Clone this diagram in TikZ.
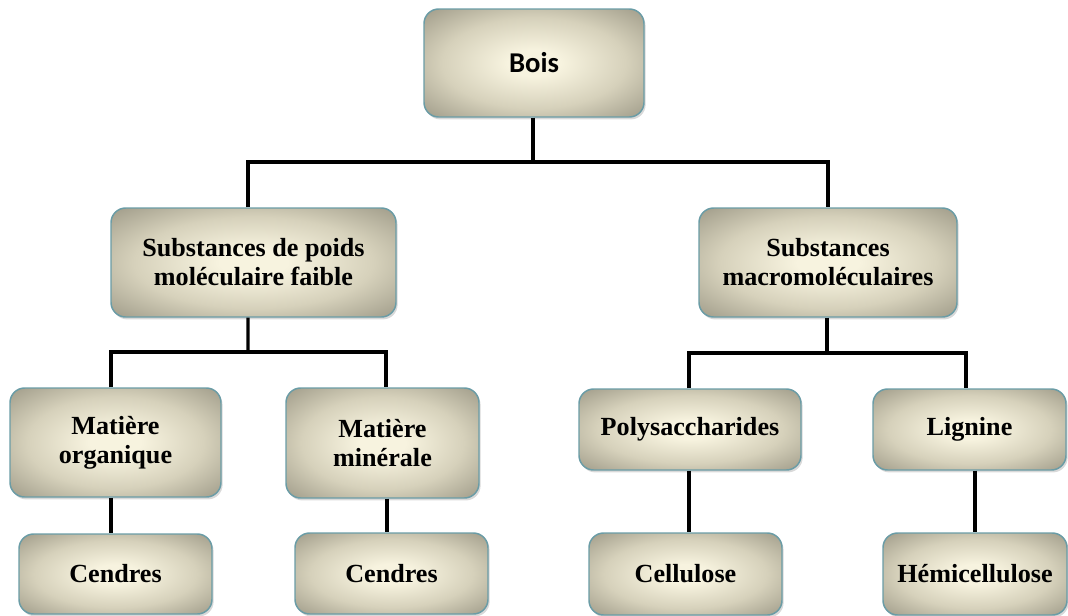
\documentclass[tikz,border=0pt]{standalone}
\usepackage{fontspec}
\setmainfont{Liberation Serif}
\newfontfamily\calfont{Carlito}
\usetikzlibrary{shadows}
\definecolor{boxin}{HTML}{F7F3DF}
\definecolor{boxmid}{HTML}{D6D1BB}
\definecolor{boxout}{HTML}{9A9684}
\definecolor{boxedge}{HTML}{6A9CA6}
\pgfdeclareradialshading{boxshade}{\pgfpoint{0bp}{0bp}}{%
  color(0bp)=(boxin); color(6bp)=(boxin); color(21bp)=(boxmid);
  color(37bp)=(boxout); color(50bp)=(boxout)}
\tikzset{
  boxstyle/.style={draw=boxedge, line width=1.1pt, rounded corners=11pt,
    shading=boxshade, align=center, inner sep=0pt,
    font=\bfseries\fontsize{19.6}{21.75}\selectfont,
    drop shadow={shadow xshift=1.2pt, shadow yshift=-1.8pt, opacity=0.3}},
  link/.style={line width=2.5pt, black}
}
\begin{document}
\begin{tikzpicture}[x=0.75pt, y=-0.75pt]
\useasboundingbox (0,0) rectangle (1068,615);
% level 0
\node[boxstyle, minimum width=165pt, minimum height=81pt, font=\calfont\bfseries\fontsize{21.5}{22}\selectfont] (bois) at (534,63) {Bois};
% level 1
\node[boxstyle, minimum width=213.75pt, minimum height=81.75pt] (sub1) at (253.5,262.5) {Substances de poids\\moléculaire faible};
\node[boxstyle, minimum width=193.5pt, minimum height=81.75pt] (sub2) at (828,262.5) {Substances\\macromoléculaires};
% level 2
\node[boxstyle, minimum width=158.25pt, minimum height=81.75pt] (mo) at (115.5,442.5) {Matière\\organique};
\node[boxstyle, minimum width=144.75pt, minimum height=82.5pt] (mm) at (382.5,443) {Matière\\minérale};
\node[boxstyle, minimum width=166.5pt, minimum height=60.75pt] (poly) at (690,429.5) {Polysaccharides};
\node[boxstyle, minimum width=144.75pt, minimum height=60.75pt] (lig) at (969.5,429.5) {Lignine};
% level 3
\node[boxstyle, minimum width=144.75pt, minimum height=60pt] (c1) at (115.5,574) {Cendres};
\node[boxstyle, minimum width=144.75pt, minimum height=60.75pt] (c2) at (391.5,573.5) {Cendres};
\node[boxstyle, minimum width=144.75pt, minimum height=61.5pt] (cell) at (685.5,574) {Cellulose};
\node[boxstyle, minimum width=138pt, minimum height=61.5pt] (hemi) at (975,574) {Hémicellulose};
% junctions
\coordinate (j1) at (533,162);
\coordinate (j2) at (248,352);
\coordinate (j3) at (827,353);
% connectors
\draw[link] (bois.south -| j1) -- (j1);
\draw[link] ([xshift=-4.1pt]sub1.north) |- (j1) -| (sub2.north);
\draw[link] ([xshift=-4.1pt]sub1.south) -- (j2);
\draw[link] ([xshift=-3.4pt]mo.north) |- (j2) -| ([xshift=2.6pt]mm.north);
\draw[link] (sub2.south -| j3) -- (j3);
\draw[link] ([xshift=-0.75pt]poly.north) |- (j3) -| ([xshift=-2.6pt]lig.north);
\draw[link] ([xshift=-3.4pt]mo.south) -- ([xshift=-3.4pt]mo.south |- c1.north);
\draw[link] ([xshift=3.4pt]mm.south) -- ([xshift=3.4pt]mm.south |- c2.north);
\draw[link] ([xshift=-0.75pt]poly.south) -- ([xshift=-0.75pt]poly.south |- cell.north);
\draw[link] (hemi.north |- lig.south) -- (hemi.north);
\end{tikzpicture}
\end{document}
